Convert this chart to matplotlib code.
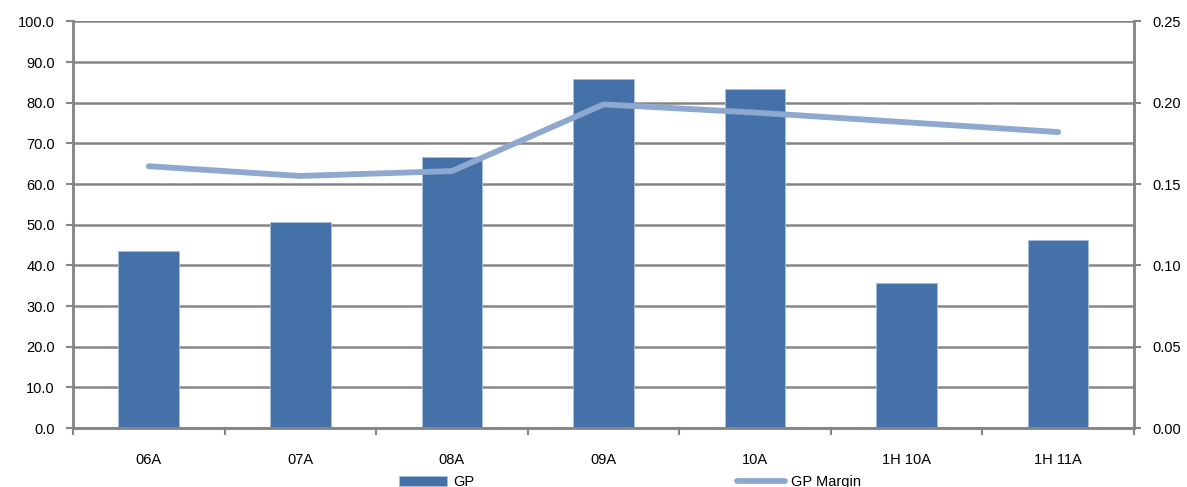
import numpy as np
import matplotlib.pyplot as plt
from matplotlib.ticker import FixedLocator

plt.rcParams['font.family'] = ['Liberation Sans', 'DejaVu Sans']

# Gross profit and margin by period
periods = ["06A", "07A", "08A", "09A", "10A", "1H 10A", "1H 11A"]
gp = [43.6, 50.6, 66.6, 85.8, 83.3, 35.7, 46.2]
gp_margin = [0.161, 0.155, 0.158, 0.199, 0.194, 0.188, 0.182]

bar_color = "#4472a8"
line_color = "#8ea8cf"
grid_color = "#868686"

fig = plt.figure(figsize=(11.87, 4.87), dpi=100)
ax = fig.add_axes([0.0615, 0.1211, 0.8938, 0.8348])
ax2 = ax.twinx()

x = np.arange(len(periods))
ax.bar(x, gp, width=0.4, color=bar_color, edgecolor="#a9bfdc", linewidth=0.6,
       zorder=2, label="GP")
ax2.plot(x, gp_margin, color=line_color, linewidth=4.2, solid_capstyle="round",
         label="GP Margin")

ax.set_xlim(-0.5, len(periods) - 0.5)
ax.set_ylim(0, 100)
ax2.set_ylim(0, 0.25)

ax.set_yticks(np.arange(0, 101, 10))
ax.set_yticklabels([f"{v:.1f}" for v in np.arange(0, 101, 10)])
ax2.set_yticks(np.arange(0, 0.26, 0.05))
ax2.set_yticklabels([f"{v:.2f}" for v in np.arange(0, 0.26, 0.05)])

ax.yaxis.grid(True, color=grid_color, linewidth=1.8, zorder=0)
ax.set_axisbelow(True)

# category labels in the middle, tick marks on the boundaries
ax.set_xticks(x)
ax.set_xticklabels(periods)
ax.xaxis.set_minor_locator(FixedLocator(np.arange(-0.5, len(periods), 1.0)))
ax.tick_params(axis="x", which="major", length=0, pad=18, labelsize=10.5)
ax.tick_params(axis="x", which="minor", length=5, width=1.5, color=grid_color)
ax.tick_params(axis="y", length=5, width=1.5, color=grid_color, labelsize=10.5, pad=8)
ax2.tick_params(axis="y", length=5, width=1.5, color=grid_color, labelsize=10.5, pad=8)

for a in (ax, ax2):
    a.spines["top"].set_visible(False)
    for s in ("left", "right", "bottom"):
        a.spines[s].set_color(grid_color)
        a.spines[s].set_linewidth(1.8)

h1, l1 = ax.get_legend_handles_labels()
h2, l2 = ax2.get_legend_handles_labels()
fig.legend(h1 + h2, l1 + l2, loc="center", bbox_to_anchor=(630 / 1187, 0.01),
           ncol=2, frameon=False, fontsize=10.5, handlelength=3.3,
           handletextpad=0.4, columnspacing=18.0)

fig.savefig("out.png", dpi=100)
